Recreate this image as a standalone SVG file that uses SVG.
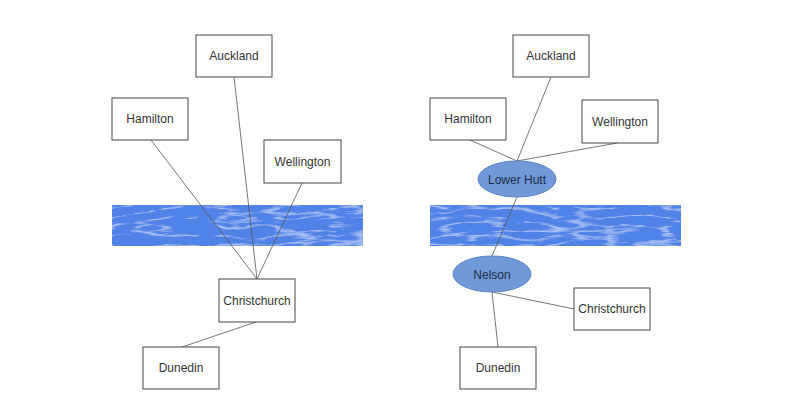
<svg xmlns="http://www.w3.org/2000/svg" width="788" height="416" viewBox="0 0 788 416">
<style>
.box{fill:#fff;stroke:#444;stroke-width:1}
.lbl{font-family:"Liberation Sans",Arial,sans-serif;font-size:12px;fill:#333;text-anchor:middle}
.ell{fill:#7199d8;stroke:#5b82c2;stroke-width:1}
.elbl{font-family:"Liberation Sans",Arial,sans-serif;font-size:12px;fill:#1b2b4d;text-anchor:middle}
.ln{stroke:#555;stroke-width:0.8;fill:none}
</style>
<defs>
<filter id="water" x="0" y="0" width="1" height="1">
<feFlood flood-color="#5083e8" result="base"/>
<feTurbulence type="turbulence" baseFrequency="0.018 0.11" numOctaves="3" seed="5" result="noise"/>
<feColorMatrix in="noise" type="matrix" values="0 0 0 0 0.62  0 0 0 0 0.77  0 0 0 0 0.98  0 0 0 -5 1.15" result="hl"/>
<feComponentTransfer in="hl" result="hl2"><feFuncA type="linear" slope="0.6" intercept="0"/></feComponentTransfer>
<feMerge result="m"><feMergeNode in="base"/><feMergeNode in="hl2"/></feMerge>
<feComposite in="m" in2="SourceAlpha" operator="in"/>
</filter>
</defs>
<rect width="788" height="416" fill="#fff"/>
<g id="water-left"><rect x="112" y="205" width="251" height="41" fill="#4f80e6" filter="url(#water)"/></g>
<g id="water-right"><rect x="430" y="205" width="251" height="41" fill="#4f80e6" filter="url(#water)"/></g>
<g id="connectors">
<line class="ln" x1="234" y1="77" x2="257" y2="279"/>
<line class="ln" x1="151" y1="140" x2="257" y2="279"/>
<line class="ln" x1="302" y1="183" x2="257" y2="279"/>
<line class="ln" x1="256" y1="322" x2="182" y2="347"/>
<line class="ln" x1="470" y1="140" x2="517" y2="161"/>
<line class="ln" x1="551" y1="77" x2="517" y2="161"/>
<line class="ln" x1="617" y1="143" x2="517" y2="161"/>
<line class="ln" x1="517" y1="197" x2="492" y2="256"/>
<line class="ln" x1="492" y1="292" x2="574" y2="309"/>
<line class="ln" x1="492" y1="292" x2="498" y2="347"/>
</g>
<g id="l-auckland"><rect class="box" x="196" y="35" width="76" height="42"/><text class="lbl" x="234" y="60">Auckland</text></g>
<g id="l-hamilton"><rect class="box" x="112" y="98" width="76" height="42"/><text class="lbl" x="150" y="123">Hamilton</text></g>
<g id="l-wellington"><rect class="box" x="264" y="140" width="77" height="43"/><text class="lbl" x="302.5" y="165.5">Wellington</text></g>
<g id="l-christchurch"><rect class="box" x="219" y="279" width="76" height="43"/><text class="lbl" x="257" y="304.5">Christchurch</text></g>
<g id="l-dunedin"><rect class="box" x="143" y="347" width="76" height="42"/><text class="lbl" x="181" y="372">Dunedin</text></g>
<g id="r-auckland"><rect class="box" x="513" y="35" width="76" height="42"/><text class="lbl" x="551" y="60">Auckland</text></g>
<g id="r-hamilton"><rect class="box" x="430" y="98" width="76" height="42"/><text class="lbl" x="468" y="123">Hamilton</text></g>
<g id="r-wellington"><rect class="box" x="582" y="100" width="76" height="43"/><text class="lbl" x="620" y="125.5">Wellington</text></g>
<g id="r-lowerhutt"><ellipse class="ell" cx="517" cy="179" rx="39" ry="18"/><text class="elbl" x="517" y="183.5">Lower Hutt</text></g>
<g id="r-nelson"><ellipse class="ell" cx="492" cy="274" rx="39" ry="18"/><text class="elbl" x="492" y="278.5">Nelson</text></g>
<g id="r-christchurch"><rect class="box" x="574" y="288" width="76" height="42"/><text class="lbl" x="612" y="313">Christchurch</text></g>
<g id="r-dunedin"><rect class="box" x="460" y="347" width="76" height="42"/><text class="lbl" x="498" y="372">Dunedin</text></g>
</svg>
